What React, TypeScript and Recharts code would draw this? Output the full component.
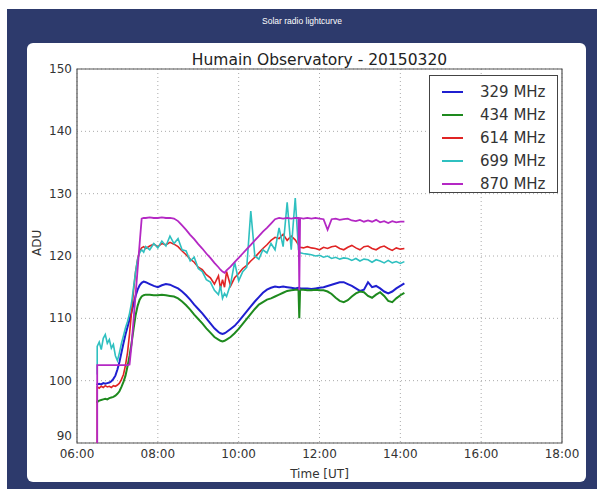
import React from "react";
import { LineChart, Line, XAxis, YAxis, CartesianGrid, ReferenceArea } from "recharts";

// time in hours UT
const times = [
  6.5, 6.5, 6.55, 6.6, 6.65, 6.7, 6.75, 6.8, 6.85, 6.9, 6.95, 7.0, 7.05, 7.1, 7.15, 7.2, 7.25, 7.3, 7.35, 7.4, 7.45,
  7.5, 7.55, 7.6, 7.65, 7.7, 7.8, 7.9, 8.0, 8.1, 8.2, 8.3, 8.4, 8.5, 8.6, 8.7, 8.8, 8.9, 9.0, 9.1, 9.2, 9.3, 9.4,
  9.5, 9.55, 9.6, 9.65, 9.7, 9.8, 9.9, 10.0, 10.1, 10.2, 10.3, 10.4, 10.5, 10.6, 10.7, 10.8, 10.9, 11.0, 11.1, 11.2,
  11.3, 11.4, 11.48, 11.5, 11.52, 11.6, 11.7, 11.8, 11.9, 12.0, 12.1, 12.2, 12.3, 12.4, 12.5, 12.6, 12.7, 12.8, 12.9,
  13.0, 13.1, 13.2, 13.3, 13.4, 13.5, 13.6, 13.7, 13.8, 13.9, 14.0, 14.1,
];

const mhz329 = [
  99.3, 99.4, 99.5, 99.4, 99.6, 99.5, 99.6, 99.7, 99.9, 100.3, 100.8, 101.8, 103.0, 104.5, 106.0, 107.4, 108.6, 109.8, 111.0, 112.3, 113.6,
  114.6, 115.3, 115.7, 115.9, 115.8, 115.5, 115.2, 115.0, 115.3, 115.5, 115.4, 115.1, 114.8, 114.3, 113.7, 113.0, 112.2, 111.5, 110.8, 110.0, 109.2, 108.4,
  107.8, 107.6, 107.5, 107.6, 107.8, 108.3, 108.8, 109.5, 110.3, 111.1, 111.9, 112.7, 113.4, 114.1, 114.6, 114.9, 115.1, 115.0, 115.1, 115.0,
  114.9, 114.8, 114.9, 114.9, 114.8, 114.8, 114.8, 114.7, 114.8, 114.9, 115.0, 115.2, 115.4, 115.6, 115.8, 115.8, 115.5, 115.2, 114.8,
  114.4, 114.6, 115.8, 115.0, 115.2, 114.8, 114.3, 114.0, 114.3, 114.8, 115.2, 115.6,
];

const mhz434 = [
  96.4, 96.6, 96.8, 96.9, 97.0, 97.1, 97.0, 97.2, 97.3, 97.4, 97.6, 97.9, 98.3, 99.0, 99.8, 100.8, 102.3, 104.0, 106.0, 108.3, 110.5,
  112.0, 113.0, 113.5, 113.7, 113.8, 113.8, 113.7, 113.7, 113.8, 113.7, 113.6, 113.5, 113.2, 112.7, 112.1, 111.4, 110.6, 109.9, 109.2, 108.4, 107.7, 107.0,
  106.6, 106.4, 106.3, 106.4, 106.6, 107.0, 107.6, 108.3, 109.1, 109.9, 110.7, 111.5, 112.2, 112.6, 113.0, 113.2, 113.5, 113.8, 114.1, 114.4,
  114.5, 114.6, 114.6, 110.0, 114.6, 114.6, 114.5, 114.5, 114.6, 114.5, 114.5, 114.3, 113.9, 113.3, 112.8, 112.6, 112.9, 113.5, 114.0,
  114.3, 114.2, 113.6, 113.3, 113.8, 114.2, 113.6, 112.8, 112.6, 113.2, 113.7, 114.1,
];

const mhz614 = [
  90.0, 99.0, 98.8, 99.1, 98.9, 99.2, 99.0, 99.1, 98.9, 99.2, 99.1, 99.3, 99.6, 100.2, 101.0, 102.5, 104.5, 107.5, 111.0, 114.5, 117.5,
  119.5, 120.8, 121.3, 121.5, 121.2, 121.6, 121.9, 121.5, 122.0, 121.8, 122.2, 121.9, 121.5, 120.8, 120.2, 119.5, 119.0, 118.2, 117.8, 117.0, 116.5, 115.5,
  116.8, 114.8, 116.2, 115.0, 117.5, 115.2, 116.5, 117.2, 118.0, 118.5, 119.2, 119.8, 120.5, 121.2, 121.8, 122.5, 123.0, 122.8, 123.5, 122.5,
  123.2, 122.6, 121.8, 121.5, 121.4, 121.3, 121.5, 121.3, 121.2, 121.0, 121.4, 121.2, 121.5, 121.6, 121.2, 121.0, 121.4, 121.7, 121.3,
  121.0, 121.5, 121.6, 121.2, 121.0, 121.4, 121.6, 121.2, 120.9, 121.3, 121.1, 121.2,
];

const mhz699 = [
  101.0, 105.5, 106.2, 105.0, 106.8, 107.4, 106.0, 106.6, 105.2, 105.8, 104.0, 103.2, 104.5, 106.0, 107.2, 108.5, 109.5, 110.8, 112.5, 115.0, 117.5,
  119.5, 120.5, 121.0, 120.6, 121.5, 121.0, 122.0, 121.3, 122.4, 121.6, 123.2, 122.0, 122.8, 121.0, 120.8, 119.2, 119.8, 118.0, 117.5, 116.2, 115.8, 114.5,
  113.8, 115.2, 113.2, 114.0, 113.5, 115.5, 119.0, 116.0, 117.5, 118.2, 127.2, 120.0, 119.5, 121.0, 120.5, 122.0, 121.0, 124.5, 121.5, 128.6,
  121.0, 129.3, 121.0, 120.8, 120.5, 120.4, 120.3, 120.2, 120.0, 120.1, 119.8, 120.0, 119.6, 119.8, 119.5, 119.7, 119.6, 119.3, 119.6,
  119.2, 119.5, 119.4, 119.0, 119.4, 119.2, 118.9, 119.3, 118.9, 119.1, 118.8, 119.1,
];

const mhz870 = [
  90.0, 102.5, 102.5, 102.5, 102.5, 102.5, 102.5, 102.5, 102.5, 102.5, 102.5, 102.5, 102.5, 102.5, 102.5, 102.5, 102.5, 102.6, 105.7, 109.8, 113.8,
  117.9, 122.0, 126.0, 126.1, 126.1, 126.2, 126.1, 126.1, 126.2, 126.1, 126.1, 126.0, 125.6, 124.9, 124.2, 123.4, 122.7, 121.9, 121.2, 120.4, 119.7, 118.9,
  118.2, 117.8, 117.5, 117.3, 117.7, 118.3, 119.0, 119.7, 120.4, 121.1, 121.8, 122.5, 123.2, 123.9, 124.5, 125.2, 125.9, 126.1, 126.0, 126.1,
  126.0, 126.1, 126.1, 114.5, 126.1, 126.0, 126.1, 126.0, 126.1, 126.0, 125.9, 124.2, 125.9, 126.0, 125.8, 125.9, 126.0, 125.7, 125.6,
  125.8, 125.5, 125.7, 125.5, 125.8, 125.4, 125.6, 125.3, 125.6, 125.4, 125.5, 125.5,
];

const xTicks = [6, 8, 10, 12, 14, 16, 18];
const yTicks = [90, 100, 110, 120, 130, 140, 150];

const series = [
  { key: "mhz329", name: "329 MHz", color: "#1f1fd0", values: mhz329, width: 2 },
  { key: "mhz434", name: "434 MHz", color: "#1e8a1e", values: mhz434, width: 2 },
  { key: "mhz614", name: "614 MHz", color: "#e02424", values: mhz614, width: 1.6 },
  { key: "mhz699", name: "699 MHz", color: "#2fc0c0", values: mhz699, width: 1.6 },
  { key: "mhz870", name: "870 MHz", color: "#b428c4", values: mhz870, width: 1.8 },
];

const data = times.map((t, i) => {
  const row: Record<string, number> = { t };
  series.forEach((s) => {
    row[s.key] = s.values[i];
  });
  return row;
});

const font = "'DejaVu Sans', sans-serif";

const fmtHour = (h: number) => `${String(h).padStart(2, "0")}:00`;

// the bottom "90" sits a little higher, as in the original figure
function YTick(props: any) {
  const { x, y, payload } = props;
  const lift = payload.value === 90 ? -7 : 0;
  return (
    <text x={x} y={y + lift} dy={4} textAnchor="end" fill="#333" fontSize={12} fontFamily={font}>
      {payload.value}
    </text>
  );
}

function LegendBox() {
  return (
    <div
      style={{
        position: "absolute",
        left: 429,
        top: 75,
        width: 129,
        height: 118,
        border: "1px solid #444",
        background: "#fff",
        fontFamily: font,
        fontSize: 15,
        color: "#333",
        boxSizing: "border-box",
        paddingTop: 4,
      }}
    >
      {series.map((s) => (
        <div key={s.key} style={{ display: "flex", alignItems: "center", height: 23 }}>
          <div style={{ width: 21, height: 2, background: s.color, marginLeft: 12, marginRight: 17 }} />
          <span>{s.name}</span>
        </div>
      ))}
    </div>
  );
}

export default function App() {
  return (
    <div style={{ position: "absolute", left: 0, top: 0, width: 601, height: 495, background: "#fff" }}>
      <div style={{ position: "absolute", left: 7, top: 9, width: 590, height: 480, background: "#2d3a6c" }} />
      <div
        style={{
          position: "absolute",
          left: 0,
          top: 16,
          width: 604,
          textAlign: "center",
          color: "#fff",
          fontFamily: "'Liberation Sans', sans-serif",
          fontSize: 8.5,
        }}
      >
        Solar radio lightcurve
      </div>
      <div
        style={{
          position: "absolute",
          left: 27,
          top: 43,
          width: 559,
          height: 439,
          background: "#fff",
          borderRadius: 6,
        }}
      />
      <div
        style={{
          position: "absolute",
          left: 77,
          top: 51,
          width: 485,
          textAlign: "center",
          fontFamily: font,
          fontSize: 15.5,
          color: "#222",
        }}
      >
        Humain Observatory - 20150320
      </div>
      <div style={{ position: "absolute", left: 0, top: 0 }}>
        <LineChart width={601} height={495} data={data} margin={{ top: 69, right: 39, left: 37, bottom: 32 }}>
          <CartesianGrid stroke="#aaa" strokeDasharray="1 3" />
          <XAxis
            dataKey="t"
            type="number"
            domain={[6, 18]}
            ticks={xTicks}
            tickFormatter={fmtHour}
            height={20}
            tickLine={false}
            axisLine={false}
            tickSize={0}
            tickMargin={6}
            tick={{ fill: "#333", fontSize: 12, fontFamily: font }}
            allowDataOverflow
            label={{ value: "Time [UT]", position: "insideBottom", offset: -15, fill: "#333", fontSize: 12, fontFamily: font }}
          />
          <YAxis
            type="number"
            domain={[90, 150]}
            ticks={yTicks}
            width={40}
            tickLine={false}
            axisLine={false}
            tickSize={0}
            tickMargin={5}
            tick={<YTick />}
            allowDataOverflow
            label={{ value: "ADU", angle: -90, position: "insideLeft", offset: 0, fill: "#333", fontSize: 12, fontFamily: font }}
          />
          <ReferenceArea x1={6} x2={18} y1={90} y2={150} fill="none" stroke="#555" strokeWidth={1.2} />
          {series.map((s) => (
            <Line
              key={s.key}
              dataKey={s.key}
              name={s.name}
              stroke={s.color}
              strokeWidth={s.width}
              dot={false}
              type="linear"
              isAnimationActive={false}
            />
          ))}
        </LineChart>
      </div>
      <LegendBox />
    </div>
  );
}
